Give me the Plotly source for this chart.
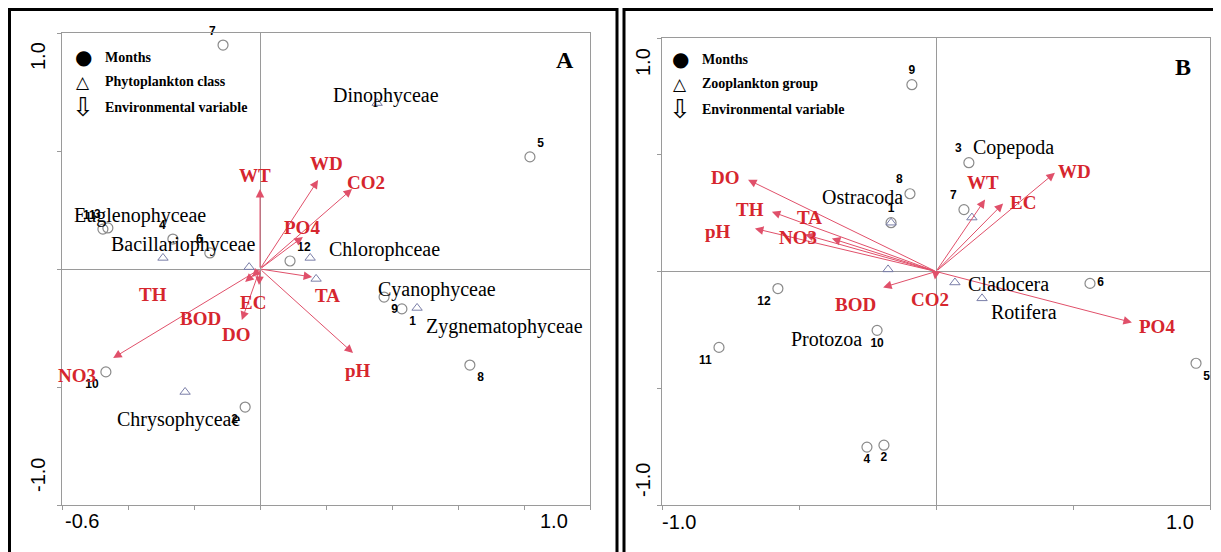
import plotly.graph_objects as go

W, H = 1221, 552
PAGE_MARGIN = 8  # default body margin of the html page
FW, FH = W - PAGE_MARGIN, H - PAGE_MARGIN

# ---------------- Panel A data ----------------
months = ["1", "2", "3", "4", "5", "6", "7", "8", "9", "10", "11", "12"]
A_month_x = [0.430, -0.045, -0.461, -0.264, 0.818, -0.152, -0.112, 0.636, 0.376, -0.467, -0.476, 0.091]
A_month_y = [-0.169, -0.585, 0.174, 0.127, 0.475, 0.068, 0.949, -0.407, -0.119, -0.436, 0.169, 0.034]

A_class = ["Dinophyceae", "Euglenophyceae", "Bacillariophyceae", "Chlorophceae",
           "Cyanophyceae", "Zygnematophyceae", "Chrysophyceae"]
A_class_x = [0.355, -0.033, -0.294, 0.152, 0.170, 0.476, -0.227]
A_class_y = [0.703, 0.008, 0.047, 0.047, -0.042, -0.165, -0.521]

A_env = ["WT", "WD", "CO2", "PO4", "TA", "pH", "EC", "DO", "TH", "BOD", "NO3"]
A_env_x = [0.000, 0.176, 0.279, 0.130, 0.158, 0.282, -0.003, -0.055, -0.045, -0.024, -0.445]
A_env_y = [0.339, 0.377, 0.339, 0.136, -0.034, -0.356, -0.068, -0.216, -0.055, -0.034, -0.377]

A_xticks = [-0.6, -0.4, -0.2, 0.0, 0.2, 0.4, 0.6, 0.8, 1.0]
A_yticks = [-1.0, -0.5, 0.0, 0.5, 1.0]

# ---------------- Panel B data ----------------
B_month_x = [-0.164, -0.190, 0.120, -0.252, 0.949, 0.562, 0.102, -0.095, -0.088, -0.215, -0.792, -0.577]
B_month_y = [0.209, -0.744, 0.466, -0.752, -0.393, -0.051, 0.265, 0.333, 0.800, -0.252, -0.325, -0.073]

B_group = ["Copepoda", "Ostracoda", "Cladocera", "Rotifera", "Protozoa"]
B_group_x = [0.131, -0.164, 0.069, 0.168, -0.175]
B_group_y = [0.231, 0.209, -0.047, -0.115, 0.009]

B_env = ["DO", "TH", "pH", "TA", "NO3", "WT", "EC", "WD", "BOD", "CO2", "PO4"]
B_env_x = [-0.686, -0.599, -0.661, -0.478, -0.380, 0.179, 0.245, 0.434, -0.193, -0.004, 0.715]
B_env_y = [0.393, 0.256, 0.184, 0.158, 0.141, 0.308, 0.291, 0.423, -0.068, -0.034, -0.218]

B_xticks = [-1.0, -0.5, 0.0, 0.5, 1.0]
B_yticks = [-1.0, -0.5, 0.0, 0.5, 1.0]

# ---------------- styling / label placement (pixels) ----------------
A_month_pos = ["bottom right", "bottom left", "top left", "top left", "top right", "top left",
               "top left", "bottom right", "bottom right", "bottom left", "top left", "top right"]
B_month_pos = ["top center", "bottom center", "top left", "bottom center", "bottom right", "middle right",
               "top left", "top left", "top center", "bottom center", "bottom left", "bottom left"]
A_class_off = [(9, 8), (-109, 52), (20, 13), (74, 8), (121, -11), (87, -19), (-7, -28)]
B_group_off = [(42, 70), (-29, 26), (54, -2), (42, -14), (-62, -70)]
A_env_off = [(-5, 13), (8, 17), (14, 6), (-1, 9), (15, -18), (5, -17), (-6, -17), (-5, -15),
             (-92, -13), (-52, -41), (-36, -18)]
B_env_off = [(-23, 2), (-22, 2), (-37, -3), (4, 17), (-34, 1), (-2, 17), (20, 1), (20, 1),
             (-28, -17), (-5, -20), (25, -4)]

RED = "#d6262e"
ARROW = "#e0506a"
GREY = "#9a9a9a"
SERIF = "Liberation Serif, Times New Roman, serif"
SANS = "Liberation Sans, Arial, sans-serif"


def px(x):
    return (x - PAGE_MARGIN) / FW


def py(y):
    return 1 - (y - PAGE_MARGIN) / FH


fig = go.Figure()

month_font = dict(family=SANS, size=12, color="black", weight="bold")
fig.add_trace(go.Scatter(x=A_month_x, y=A_month_y, mode="markers+text", text=months,
                         textposition=A_month_pos, textfont=month_font, cliponaxis=False,
                         marker=dict(symbol="circle-open", size=10, color="#8a8a8a", line=dict(width=1.2)),
                         xaxis="x", yaxis="y", hoverinfo="skip"))
fig.add_trace(go.Scatter(x=B_month_x, y=B_month_y, mode="markers+text", text=months,
                         textposition=B_month_pos, textfont=month_font, cliponaxis=False,
                         marker=dict(symbol="circle-open", size=10, color="#8a8a8a", line=dict(width=1.2)),
                         xaxis="x2", yaxis="y2", hoverinfo="skip"))
fig.add_trace(go.Scatter(x=A_class_x, y=A_class_y, mode="markers", cliponaxis=False,
                         marker=dict(symbol="triangle-up-open", size=9, color="#7a7ea8", line=dict(width=1)),
                         xaxis="x", yaxis="y", hoverinfo="skip"))
fig.add_trace(go.Scatter(x=B_group_x, y=B_group_y, mode="markers", cliponaxis=False,
                         marker=dict(symbol="triangle-up-open", size=9, color="#7a7ea8", line=dict(width=1)),
                         xaxis="x2", yaxis="y2", hoverinfo="skip"))

ann = []


def add_panel(names, xs, ys, offs, xr, yr, font):
    for n, x, y, (dx, dy) in zip(names, xs, ys, offs):
        ann.append(dict(x=x, y=y, xref=xr, yref=yr, text=n, showarrow=False,
                        xanchor="center", yanchor="middle",
                        xshift=dx, yshift=dy, font=font))


def add_arrows(xs, ys, xr, yr):
    for x, y in zip(xs, ys):
        ann.append(dict(x=x, y=y, xref=xr, yref=yr, ax=0, ay=0, axref=xr, ayref=yr,
                        text="", showarrow=True, arrowhead=2, arrowsize=1.7, arrowwidth=1,
                        arrowcolor=ARROW, standoff=0))


add_arrows(A_env_x, A_env_y, "x", "y")
add_arrows(B_env_x, B_env_y, "x2", "y2")
add_panel(A_class, A_class_x, A_class_y, A_class_off, "x", "y",
          dict(family=SERIF, size=20, color="black"))
add_panel(B_group, B_group_x, B_group_y, B_group_off, "x2", "y2",
          dict(family=SERIF, size=20, color="black"))
add_panel(["<b>%s</b>" % s for s in A_env], A_env_x, A_env_y, A_env_off, "x", "y",
          dict(family=SERIF, size=19, color=RED))
add_panel(["<b>%s</b>" % s for s in B_env], B_env_x, B_env_y, B_env_off, "x2", "y2",
          dict(family=SERIF, size=19, color=RED))


def paper_text(x, y, text, font, xanchor="center", angle=0):
    ann.append(dict(x=px(x), y=py(y), xref="paper", yref="paper", text=text, showarrow=False,
                    xanchor=xanchor, yanchor="middle", textangle=angle, font=font))


def legend(x0, y0, label2):
    syms = ["\u25CF", "\u25B3", "\u21E9"]
    texts = ["Months", label2, "Environmental variable"]
    sizes = [20, 17, 26]
    for i, (s, t) in enumerate(zip(syms, texts)):
        yy = y0 + i * 25
        paper_text(x0, yy, s, dict(family="DejaVu Sans", size=sizes[i], color="black"))
        paper_text(x0 + 20, yy, "<b>%s</b>" % t, dict(family=SERIF, size=14, color="black"), xanchor="left")


legend(83, 57, "Phytoplankton class")
legend(680, 59, "Zooplankton group")

letter_font = dict(family=SERIF, size=24, color="black")
paper_text(565, 60, "<b>A</b>", letter_font)
paper_text(1183, 67, "<b>B</b>", letter_font)

# axis end labels
tick_font = dict(family=SANS, size=20, color="black")
paper_text(82, 521, "-0.6", tick_font)
paper_text(554, 521, "1.0", tick_font)
paper_text(38, 56, "1.0", tick_font, angle=-90)
paper_text(38, 475, "-1.0", tick_font, angle=-90)
paper_text(679, 522, "-1.0", tick_font)
paper_text(1180, 522, "1.0", tick_font)
paper_text(643, 62, "1.0", tick_font, angle=-90)
paper_text(643, 480, "-1.0", tick_font, angle=-90)

axis_style = dict(showgrid=False, zeroline=True, zerolinecolor=GREY, zerolinewidth=1,
                  showline=True, mirror=True, linecolor=GREY, linewidth=1,
                  ticks="outside", ticklen=4, tickcolor=GREY, showticklabels=False, fixedrange=True)

fig.update_layout(
    width=FW, height=FH, margin=dict(l=0, r=0, t=0, b=0),
    paper_bgcolor="white", plot_bgcolor="white", showlegend=False,
    xaxis=dict(domain=[px(62), px(590)], range=[-0.6, 1.0], tickvals=A_xticks, anchor="y", **axis_style),
    yaxis=dict(domain=[py(505), py(33)], range=[-1.0, 1.0], tickvals=A_yticks, anchor="x", **axis_style),
    xaxis2=dict(domain=[px(662), px(1210)], range=[-1.0, 1.0], tickvals=B_xticks, anchor="y2", **axis_style),
    yaxis2=dict(domain=[py(505), py(38)], range=[-1.0, 1.0], tickvals=B_yticks, anchor="x2", **axis_style),
    annotations=ann,
    shapes=[
        dict(type="rect", xref="paper", yref="paper", x0=px(9.5), x1=px(617), y0=py(570), y1=py(9.5),
             line=dict(color="black", width=3)),
        dict(type="rect", xref="paper", yref="paper", x0=px(624), x1=px(1240), y0=py(570), y1=py(9.5),
             line=dict(color="black", width=3)),
    ],
)

fig.write_html("out.html")
